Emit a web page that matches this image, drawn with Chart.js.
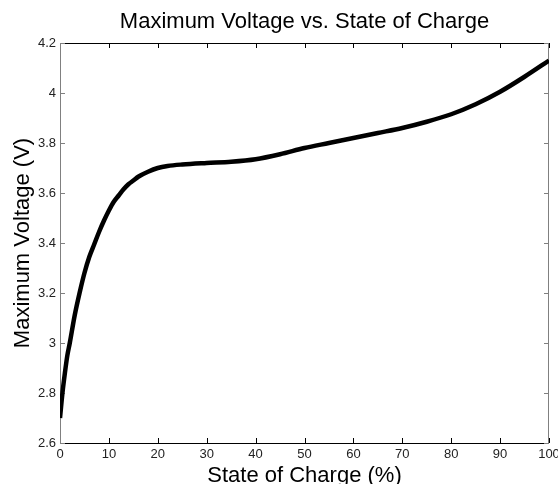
<!DOCTYPE html>
<html lang="en">
<head>
    <meta charset="UTF-8">
    <title>Maximum Voltage vs. State of Charge</title>
    <script src="https://cdn.jsdelivr.net/npm/chart.js"></script>
    <style>
        html, body { margin: 0; padding: 0; background: #fff; }
        #wrap { width: 558px; height: 484px; }
    </style>
</head>
<body>
    <div id="wrap"><canvas id="socChart"></canvas></div>

    <script>
        // State of charge (%) and maximum voltage (V)
        var soc = [0, 0.5, 1, 1.5, 2, 3, 4, 5, 6, 7, 8, 9, 10, 11, 12, 13, 14, 15, 16, 18, 20, 22, 25,
                   30, 35, 40, 45, 50, 55, 60, 65, 70, 75, 80, 85, 90, 95, 100];
        var maxVoltage = [2.70, 2.80, 2.88, 2.95, 3.00, 3.11, 3.20, 3.28, 3.345, 3.395, 3.445, 3.49, 3.53,
                          3.565, 3.59, 3.615, 3.635, 3.65, 3.665, 3.685, 3.70, 3.708, 3.714,
                          3.72, 3.725, 3.735, 3.755, 3.78, 3.80, 3.82, 3.84, 3.86, 3.885, 3.915,
                          3.955, 4.005, 4.065, 4.13];
        var xTicks = [0, 10, 20, 30, 40, 50, 60, 70, 80, 90, 100];
        var yTicks = [2.6, 2.8, 3, 3.2, 3.4, 3.6, 3.8, 4, 4.2];
        var chartTitle = 'Maximum Voltage vs. State of Charge';

        var points = soc.map(function (s, i) { return { x: s, y: maxVoltage[i] }; });

        var fontFamily = '"Liberation Sans", Arial, sans-serif';

        // box round the plot with short ticks pointing inwards (matlab style)
        var boxPlugin = {
            id: 'box',
            beforeDatasetsDraw: function (chart) {
                var ctx = chart.ctx, a = chart.chartArea;
                var xs = chart.scales.x, ys = chart.scales.y;
                var len = 5;
                ctx.save();
                ctx.lineWidth = 1;
                // top and bottom, black
                ctx.strokeStyle = '#000';
                ctx.beginPath();
                ctx.moveTo(a.left, a.top + 0.5); ctx.lineTo(a.right, a.top + 0.5);
                ctx.moveTo(a.left, a.bottom + 0.5); ctx.lineTo(a.right, a.bottom + 0.5);
                xTicks.forEach(function (t) {
                    var px = Math.round(xs.getPixelForValue(t)) + 0.5;
                    ctx.moveTo(px, a.bottom); ctx.lineTo(px, a.bottom - len);
                    ctx.moveTo(px, a.top); ctx.lineTo(px, a.top + len);
                });
                ctx.stroke();
                // left and right, grey
                ctx.strokeStyle = '#808080';
                ctx.beginPath();
                ctx.moveTo(a.left + 0.5, a.top); ctx.lineTo(a.left + 0.5, a.bottom);
                ctx.moveTo(a.right - 0.5, a.top); ctx.lineTo(a.right - 0.5, a.bottom);
                yTicks.forEach(function (t) {
                    var py = Math.round(ys.getPixelForValue(t)) + 0.5;
                    ctx.moveTo(a.left, py); ctx.lineTo(a.left + len, py);
                    ctx.moveTo(a.right, py); ctx.lineTo(a.right - len, py);
                });
                ctx.stroke();
                ctx.restore();
            },
            // title is centred on the plot area, not on the canvas
            afterDraw: function (chart) {
                var ctx = chart.ctx, a = chart.chartArea;
                ctx.save();
                ctx.font = '22px ' + fontFamily;
                ctx.fillStyle = '#000';
                ctx.textAlign = 'center';
                ctx.textBaseline = 'middle';
                ctx.fillText(chartTitle, (a.left + a.right) / 2, a.top - 21);
                ctx.restore();
            }
        };

        Chart.defaults.font.family = fontFamily;
        Chart.defaults.color = '#000';

        var ctx = document.getElementById('socChart').getContext('2d');
        var socChart = new Chart(ctx, {
            type: 'line',
            data: {
                datasets: [{
                    data: points,
                    borderColor: '#000',
                    borderWidth: 4.5,
                    pointRadius: 0,
                    fill: false,
                    cubicInterpolationMode: 'monotone'
                }]
            },
            options: {
                responsive: true,
                maintainAspectRatio: false,
                animation: false,
                layout: { padding: { top: 43 } },
                plugins: {
                    legend: { display: false },
                    tooltip: { enabled: false },
                    title: { display: false }
                },
                scales: {
                    x: {
                        type: 'linear',
                        min: 0,
                        max: 100,
                        afterBuildTicks: function (s) { s.ticks = xTicks.map(function (v) { return { value: v }; }); },
                        afterFit: function (s) { s.height = 41; s.paddingRight = 9; },
                        grid: { display: false, drawTicks: false },
                        border: { display: false },
                        ticks: { font: { size: 13 }, color: '#222', padding: 4, maxRotation: 0 },
                        title: {
                            display: true,
                            text: 'State of Charge (%)',
                            font: { size: 22, lineHeight: 0.72 },
                            color: '#000',
                            padding: { top: 0, bottom: 0 }
                        }
                    },
                    y: {
                        min: 2.6,
                        max: 4.2,
                        afterBuildTicks: function (s) { s.ticks = yTicks.map(function (v) { return { value: v }; }); },
                        afterFit: function (s) { s.width = 60; },
                        grid: { display: false, drawTicks: false },
                        border: { display: false },
                        ticks: {
                            font: { size: 13 }, color: '#222', padding: 4,
                            callback: function (v) { return String(v); }
                        },
                        title: {
                            display: true,
                            text: 'Maximum Voltage (V)',
                            font: { size: 22, lineHeight: 1 },
                            color: '#000',
                            padding: { top: 12, bottom: 0 }
                        }
                    }
                }
            },
            plugins: [boxPlugin]
        });
    </script>
</body>
</html>
